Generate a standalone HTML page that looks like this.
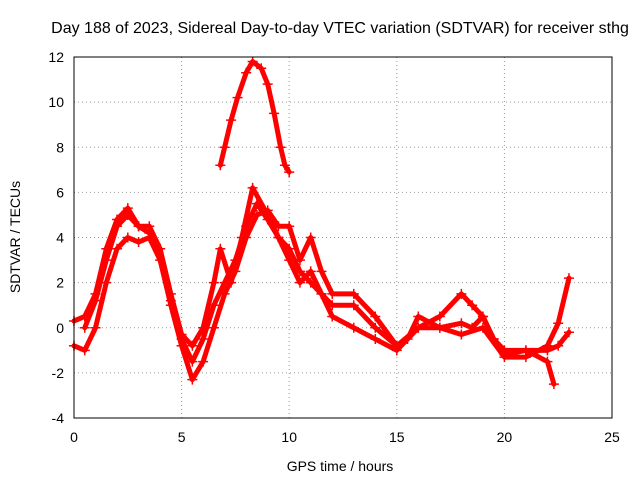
<!DOCTYPE html>
<html><head><meta charset="utf-8"><style>
body{margin:0;background:#fff;font-family:"Liberation Sans",sans-serif;}
svg text{font-family:"Liberation Sans",sans-serif;font-size:14px;fill:#000;}
</style></head><body>
<svg id="chart" width="640" height="480">
<rect width="640" height="480" fill="#fff"/>
<text x="340" y="33" text-anchor="middle" style="font-size:16px">Day 188 of 2023, Sidereal Day-to-day VTEC variation (SDTVAR) for receiver sthg</text>
<text x="340" y="471" text-anchor="middle">GPS time / hours</text>
<text transform="translate(20,237) rotate(-90)" text-anchor="middle">SDTVAR / TECUs</text>
<g id="grid"></g><g id="series"></g>
<rect x="74" y="57" width="538" height="361" fill="none" stroke="#000"/>
</svg>
<script>
const xTicks=[0,5,10,15,20,25];
const yTicks=[-4,-2,0,2,4,6,8,10,12];
const seriesA=[[0,0.3],[0.5,0.5],[1,1.5],[1.5,3.5],[2,4.8],[2.5,5.3],[3,4.5],[3.5,4.2],[4,3.5],[4.5,1.5],[5,-0.3],[5.5,-0.8],[6,0],[6.5,2],[6.8,3.5],[7.3,2],[7.8,4],[8.3,6.2],[9,5],[9.5,4],[10,3],[10.5,2],[11,2.5],[11.5,1.5],[12,1],[13,1],[14,0],[15,-0.8],[15.5,-0.5],[16,0.5],[17,0],[18,0.2],[18.5,0],[19,0.5],[19.5,-0.5],[20,-1],[21,-1],[22,-1],[22.5,-0.8],[23,-0.2]];
const seriesB=[[0,-0.8],[0.5,-1],[1,0],[1.5,2],[2,3.5],[2.5,4],[3,3.8],[3.5,4],[4,3],[4.5,1],[5,-0.8],[5.5,-2.3],[6,-1.5],[6.5,0],[7,1.5],[7.5,2.5],[8,4],[8.5,5],[9,5.2],[9.5,4.5],[10,4.5],[10.5,3],[11,4],[11.5,2.5],[12,1.5],[13,1.5],[14,0.5],[15,-0.8],[16,0],[17,0.5],[18,1.5],[18.5,1],[19,0.5],[19.5,-0.5],[20,-1.2],[21,-1],[22,-1.5],[22.3,-2.5]];
const seriesC=[[0.5,0],[1,1.2],[1.5,3],[2,4.5],[2.5,5],[3,4.5],[3.5,4.5],[4,3.5],[4.5,1.2],[5,-0.5],[5.5,-1.5],[6,-0.5],[6.5,1],[7,2],[7.5,3],[8,4.5],[8.5,5.5],[9,4.8],[9.5,4],[10,3.5],[10.5,2.5],[11,2],[11.5,1.5],[12,0.5],[13,0],[14,-0.5],[15,-1],[16,0],[17,0],[18,-0.3],[19,0],[20,-1.3],[21,-1.3],[22,-0.8],[22.5,0.2],[23,2.2]];
const seriesD=[[6.8,7.2],[7,8],[7.3,9.2],[7.6,10.2],[8,11.3],[8.3,11.8],[8.7,11.5],[9,10.8],[9.3,9.5],[9.6,8],[9.8,7.2],[10,6.9]];
const X0=74,X1=612,Y0=418,Y1=57;
const xs=v=>X0+(v-0)/25*(X1-X0);
const ys=v=>Y0-(v+4)/16*(Y0-Y1);
const NS="http://www.w3.org/2000/svg";
const grid=document.getElementById('grid');
function mk(tag,attrs,parent){const e=document.createElementNS(NS,tag);for(const k in attrs)e.setAttribute(k,attrs[k]);parent.appendChild(e);return e;}
xTicks.forEach(t=>{
  const x=xs(t);
  if(t>0&&t<25){const l=mk('line',{x1:x,x2:x,y1:Y0,y2:Y1,stroke:'#999','stroke-dasharray':'1,3'},grid);
  
  }
  const tx=mk('text',{x:x,y:Y0+24,'text-anchor':'middle'},grid);tx.textContent=t;
  
  
});
yTicks.forEach(t=>{
  const y=ys(t);
  if(t>-4&&t<12){const l=mk('line',{x1:X0,x2:X1,y1:y,y2:y,stroke:'#999','stroke-dasharray':'1,3'},grid);
  
  }
  const tx=mk('text',{x:X0-10,y:y+5,'text-anchor':'end'},grid);tx.textContent=t;
  
  
});
const sg=document.getElementById('series');
[seriesA,seriesB,seriesC,seriesD].forEach((s,i)=>{
  const pl=mk('polyline',{points:s.map(p=>xs(p[0])+','+ys(p[1])).join(' '),fill:'none',stroke:'#f00','stroke-width':5,'stroke-linejoin':'round','stroke-linecap':'round'},sg);
  
  
  s.forEach(p=>{
    const x=xs(p[0]),y=ys(p[1]);
    const m=mk('path',{d:`M${x-5},${y}H${x+5}M${x},${y-5}V${y+5}`,stroke:'#f00','stroke-width':1.5},sg);
    
    
  });
});
</script>
</body></html>
